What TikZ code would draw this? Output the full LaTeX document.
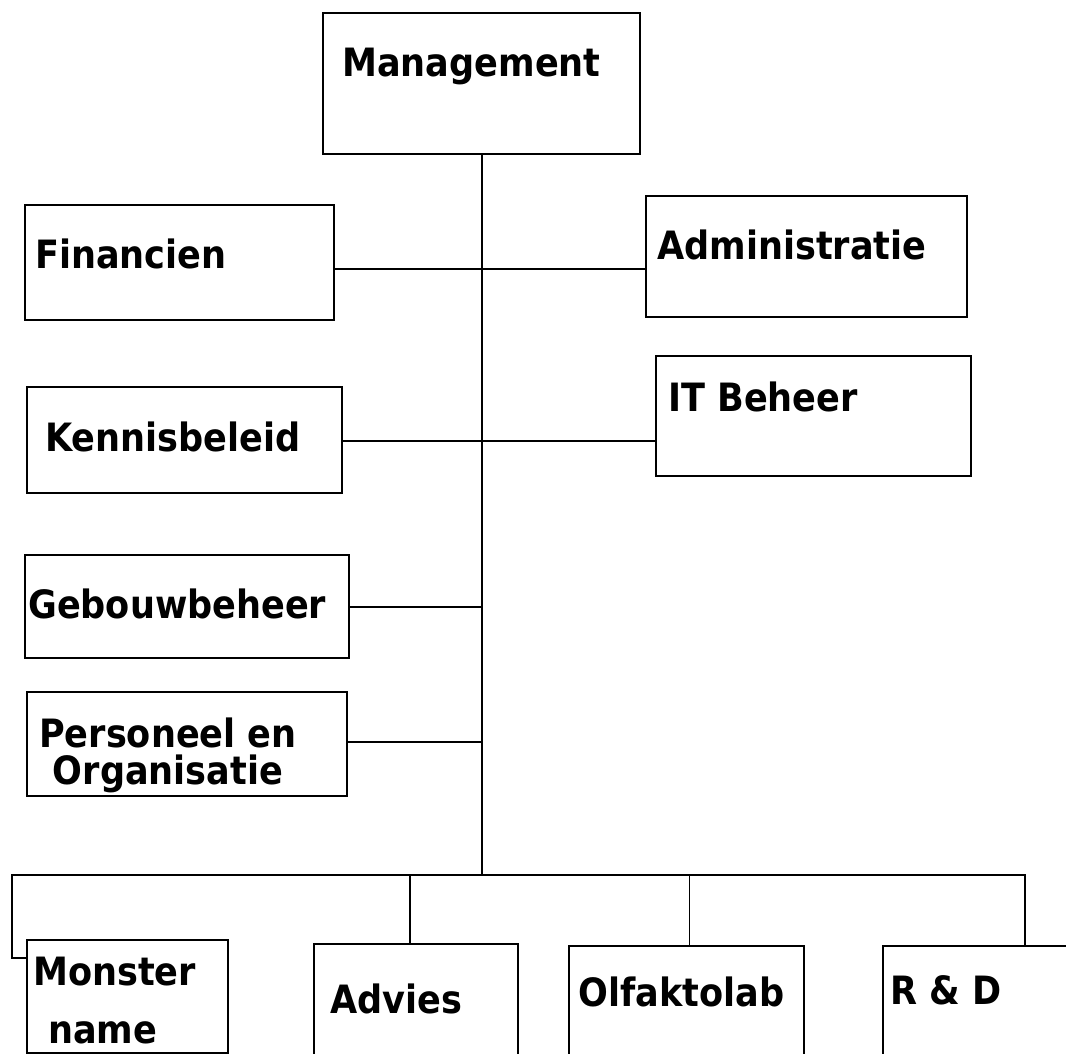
\documentclass[tikz,border=0pt]{standalone}
\usepackage{fontspec}
\newfontfamily\orgfont{DejaVu Sans}[FakeStretch=0.9]
\usepackage{tikz}
\usetikzlibrary{positioning}
\usetikzlibrary{calc}
\tikzset{
  % Common styles for the chart
  unit/.style={draw, rectangle, anchor=north west, inner sep=0pt, line width=1.6pt},
  lbl/.style={anchor=base west, inner sep=0pt, font=\orgfont\bfseries\fontsize{39}{37}\selectfont},
  link/.style={draw, line width=1.5pt}
}

\begin{document}
\begin{tikzpicture}[x=1pt, y=-1pt]
    \clip (0,0) rectangle (1066,1054);
    \fill [white] (0,0) rectangle (1066,1054);

    % Place boxes
    \node [unit, minimum width=317, minimum height=141] (mgmt) at (322,12) {};
    \node [unit, minimum width=309, minimum height=115] (fin) at (24,204) {};
    \node [unit, minimum width=321, minimum height=121] (adm) at (645,195) {};
    \node [unit, minimum width=315, minimum height=106] (kennis) at (26,386) {};
    \node [unit, minimum width=315, minimum height=120] (itb) at (655,355) {};
    \node [unit, minimum width=324, minimum height=103] (gebouw) at (24,554) {};
    \node [unit, minimum width=320, minimum height=104] (po) at (26,691) {};
    \node [unit, minimum width=201, minimum height=113] (monster) at (26,939) {};
    \node [unit, minimum width=204, minimum height=150] (advies) at (313,943) {};
    \node [unit, minimum width=235, minimum height=150] (olfakto) at (568,945) {};
    \node [unit, minimum width=284, minimum height=150] (rnd) at (882,945) {};

    % Place texts
    \node [lbl] (mgmtT) at (342,77) {Management};
    \node [lbl] (finT) at (35,268) {Financien};
    \node [lbl] (admT) at (657,259) {Administratie};
    \node [lbl] (kennisT) at (45,451) {Kennisbeleid};
    \node [lbl] (itbT) at (668,411) {IT Beheer};
    \node [lbl] (gebouwT) at (28,618) {Gebouwbeheer};
    \node [lbl, anchor=north, align=center] (poT) at (168,718) {Personeel en\\Organisatie};
    \node [lbl, anchor=north west, align=left] (monsterT) at (33,957) {Monster\\[21pt]\hspace*{15pt}name};
    \node [lbl] (adviesT) at (330,1013) {Advies};
    \node [lbl] (olfaktoT) at (578,1006) {Olfaktolab};
    \node [lbl] (rndT) at (890,1004) {R \& D};

    % Draw edges
    \coordinate (bus) at (482,875);
    \coordinate (j1) at (482,269);
    \coordinate (j2) at (482,441);
    \coordinate (j3) at (482,607);
    \coordinate (j4) at (482,742);
    \coordinate (mdrop) at (12,958);
    \path [link] (mgmt.south -| bus) -- (bus);
    \path [link] (j1 -| fin.east) -- (j1 -| adm.west);
    \path [link] (j2 -| kennis.east) -- (j2 -| itb.west);
    \path [link] (j3 -| gebouw.east) -- (j3);
    \path [link] (j4 -| po.east) -- (j4);
    \path [link] (bus) -| (mdrop) -- (mdrop -| monster.west);
    \path [link] (bus) -| ([xshift=-6pt]advies.north);
    \path [link] (bus) -| ([xshift=3pt]olfakto.north);
    \path [link] (bus) -| (rnd.north);

\end{tikzpicture}
\end{document}
